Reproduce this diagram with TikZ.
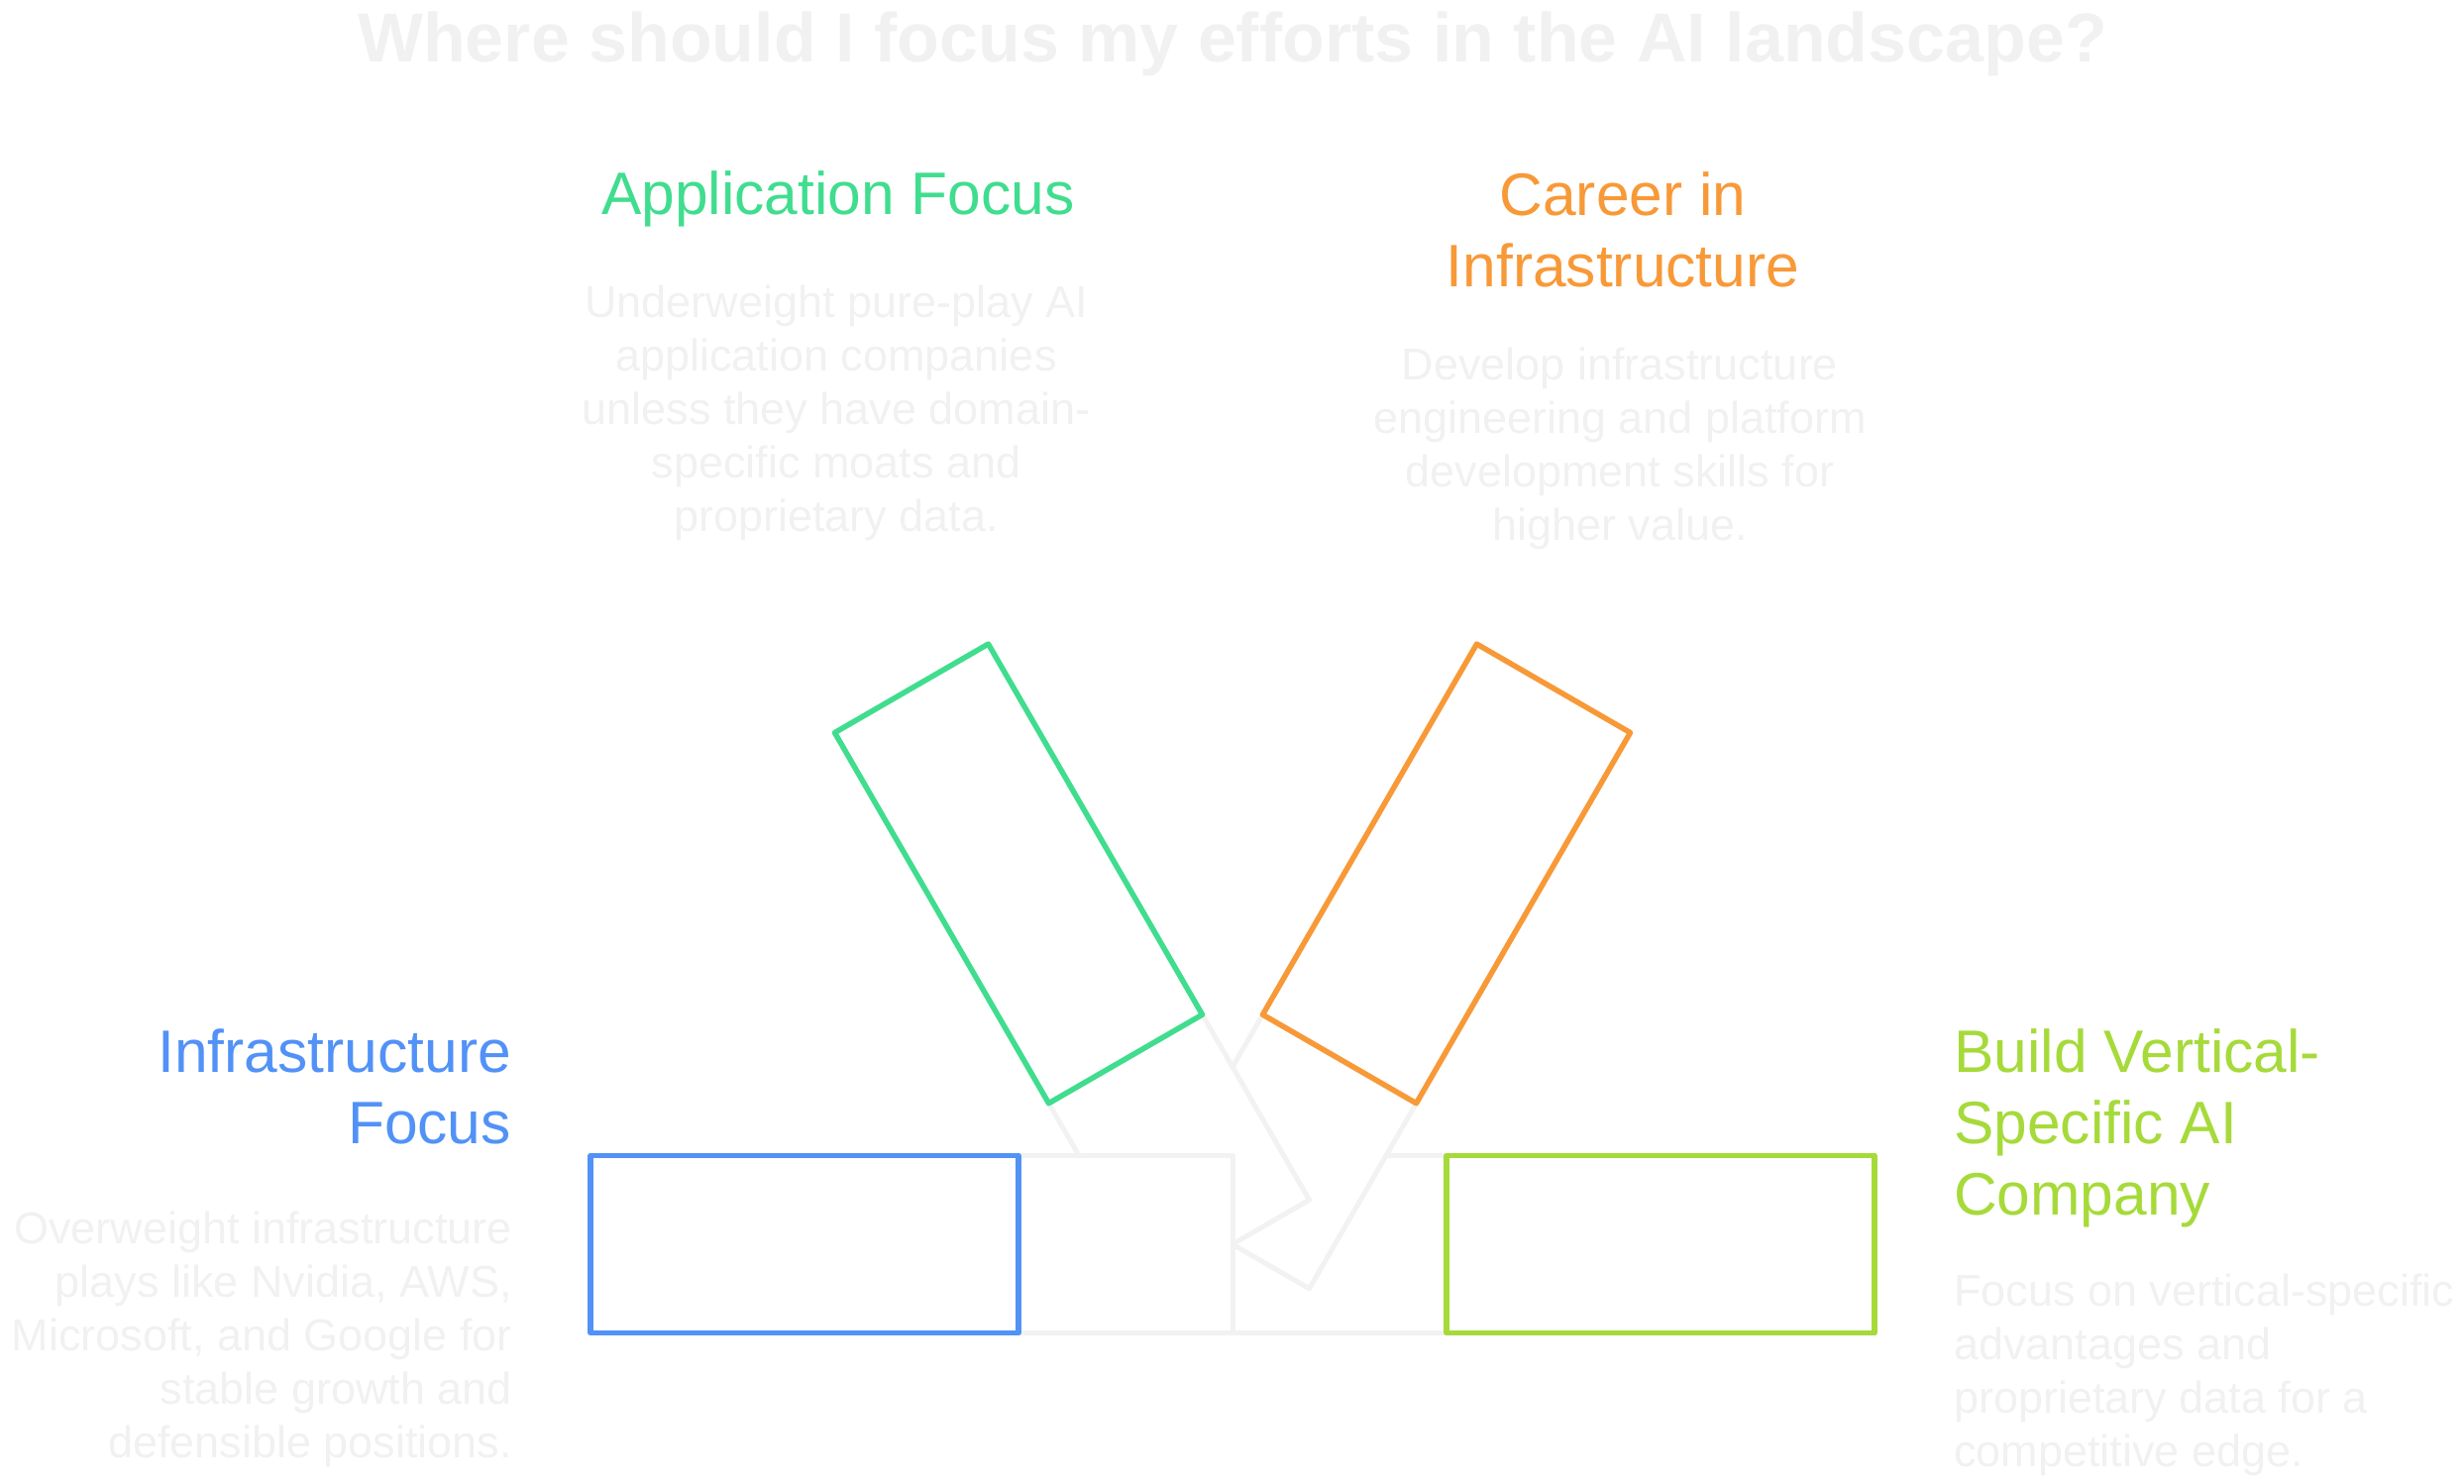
\documentclass[tikz,border=0pt]{standalone}
\usepackage{fontspec}
\setmainfont{Liberation Sans}
\definecolor{infrablue}{RGB}{82,146,247}
\definecolor{appgreen}{RGB}{64,221,143}
\definecolor{careerorange}{RGB}{248,153,56}
\definecolor{vertlime}{RGB}{166,218,58}
\definecolor{ghostgray}{RGB}{242,242,242}
\definecolor{descgray}{RGB}{241,241,241}
\begin{document}
\begin{tikzpicture}[x=1pt, y=1pt,
  arm/.style={draw, line width=5.5pt, line join=round, fill=white, minimum width=432pt, minimum height=179pt, inner sep=0pt},
  ghost/.style={draw=ghostgray, line width=5pt, line join=round, fill=white, minimum width=216pt, minimum height=179pt, inner sep=0pt},
  head/.style={inner sep=0pt, font=\fontsize{60.5}{72}\selectfont},
  desc/.style={inner sep=0pt, text=descgray, font=\fontsize{45}{54}\selectfont}
]
\useasboundingbox (0,0) rectangle (2487,-1498);
\coordinate (hub) at (1244,-1256);

\node[inner sep=0pt, text=descgray, font=\fontsize{70}{84}\selectfont\bfseries, anchor=base] (title) at (1244,-63) {Where should I focus my efforts in the AI landscape?};

% grey arms towards the hub, back to front
\node[ghost] (vert-g) at ([shift={(0:108)}]hub) {};
\node[ghost, rotate=60] (career-g) at ([shift={(60:108)}]hub) {};
\node[ghost, rotate=120] (app-g) at ([shift={(120:108)}]hub) {};
\node[ghost] (infra-g) at ([shift={(180:108)}]hub) {};

% coloured boxes
\node[arm, draw=infrablue] (infra) at ([shift={(180:432)}]hub) {};
\node[arm, draw=appgreen, rotate=120] (app) at ([shift={(120:432)}]hub) {};
\node[arm, draw=careerorange, rotate=60] (career) at ([shift={(60:432)}]hub) {};
\node[arm, draw=vertlime] (vert) at ([shift={(0:432)}]hub) {};

% labels (base anchor = last line)
\node[head, text=infrablue, align=right, anchor=base east] (infra-t) at (516,-1154) {Infrastructure\\Focus};
\node[desc, align=right, anchor=base east] (infra-d) at (517,-1471) {Overweight infrastructure\\plays like Nvidia, AWS,\\Microsoft, and Google for\\stable growth and\\defensible positions.};

\node[head, text=appgreen, anchor=base] (app-t) at (846,-217) {Application Focus};
\node[desc, align=center, anchor=base] (app-d) at (844,-536) {Underweight pure-play AI\\application companies\\unless they have domain-\\specific moats and\\proprietary data.};

\node[head, text=careerorange, align=center, anchor=base] (career-t) at (1638,-289) {Career in\\Infrastructure};
\node[desc, align=center, anchor=base] (career-d) at (1635,-545) {Develop infrastructure\\engineering and platform\\development skills for\\higher value.};

\node[head, text=vertlime, align=left, anchor=base west] (vert-t) at (1972,-1226) {Build Vertical-\\Specific AI\\Company};
\node[desc, align=left, anchor=base west] (vert-d) at (1972,-1480) {Focus on vertical-specific\\advantages and\\proprietary data for a\\competitive edge.};
\end{tikzpicture}
\end{document}
